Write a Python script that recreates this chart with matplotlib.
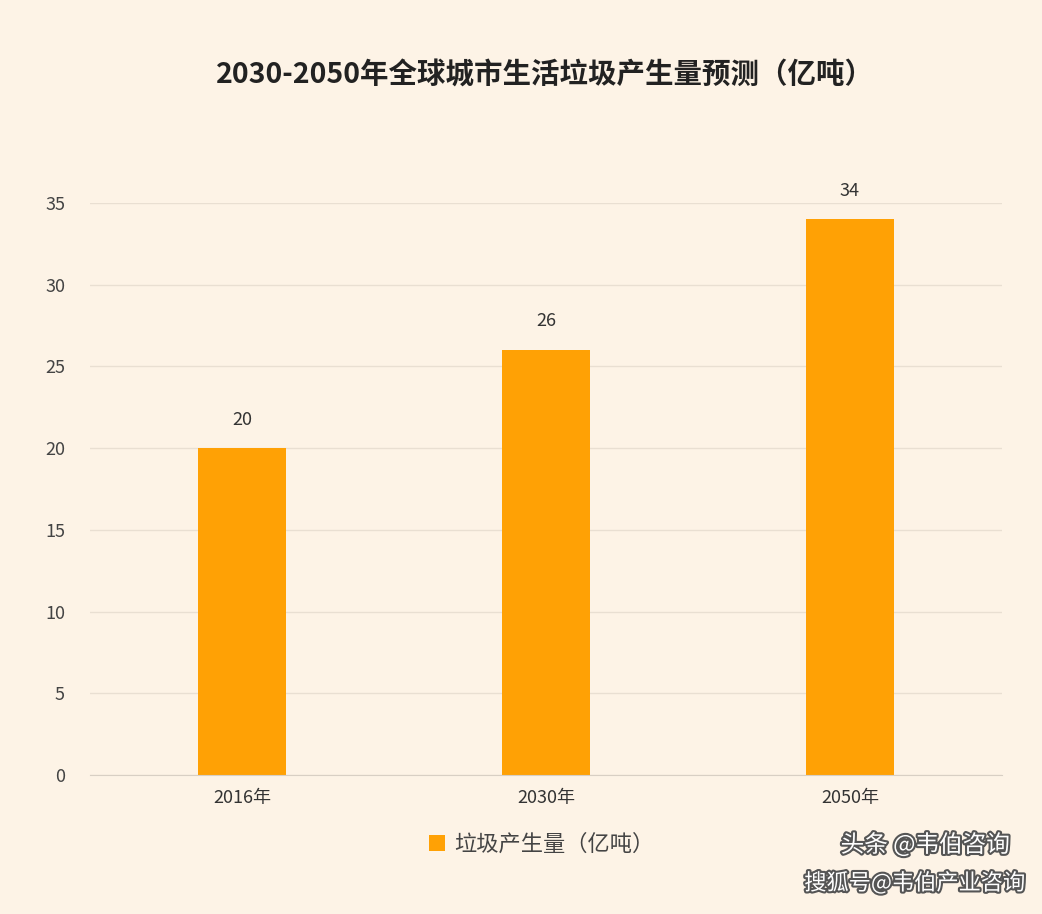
import matplotlib.pyplot as plt
import matplotlib.patheffects as pe

plt.rcParams['font.family'] = ['Noto Sans CJK SC', 'DejaVu Sans']

years = ["2016年", "2030年", "2050年"]
waste = [20, 26, 34]
yticks = [0, 5, 10, 15, 20, 25, 30, 35]

bg = "#FDF3E6"
orange = "#FFA105"

fig = plt.figure(figsize=(10.42, 9.14), dpi=100, facecolor=bg)
ax = fig.add_axes([0.0864, 0.152, 0.8752, 0.626], facecolor=bg)

x = range(len(years))
bars = ax.bar(x, waste, width=0.29, color=orange, label="垃圾产生量（亿吨）", zorder=3)
for xi, v in zip(x, waste):
    ax.text(xi, v + 1.2, str(v), ha="center", va="bottom", fontsize=13, color="#333333")

ax.set_xlim(-0.5, 2.5)
ax.set_ylim(0, 35)
ax.set_yticks(yticks)
ax.set_xticks(list(x))
ax.set_xticklabels(years, fontsize=13, color="#333333")
ax.tick_params(axis="y", labelsize=13, colors="#444444", length=0, pad=18)
ax.tick_params(axis="x", length=0, pad=10)
ax.grid(axis="y", color="#E9DFD2", linewidth=1, zorder=0)
for s in ["top", "right", "left"]:
    ax.spines[s].set_visible(False)
ax.spines["bottom"].set_color("#D8CFC4")
ax.spines["bottom"].set_zorder(4)

fig.text(0.523, 0.917, "2030-2050年全球城市生活垃圾产生量预测（亿吨）",
         ha="center", va="center", fontsize=20.5, fontweight="bold", color="#222222")

fig.legend(handles=[bars], labels=["垃圾产生量（亿吨）"], loc="center",
           bbox_to_anchor=(0.52, 0.076), frameon=False, fontsize=16,
           handlelength=0.7, handleheight=0.7, handletextpad=0.4,
           labelcolor="#444444")

# watermarks, bottom right
wm = [pe.withStroke(linewidth=3, foreground="#555555")]
fig.text(0.888, 0.076, "头条 @韦伯咨询", ha="center", va="center", fontsize=17,
         color="white", path_effects=wm)
fig.text(0.878, 0.034, "搜狐号@韦伯产业咨询", ha="center", va="center", fontsize=16,
         color="white", path_effects=wm)

fig.savefig("out.png", dpi=100, facecolor=bg)
